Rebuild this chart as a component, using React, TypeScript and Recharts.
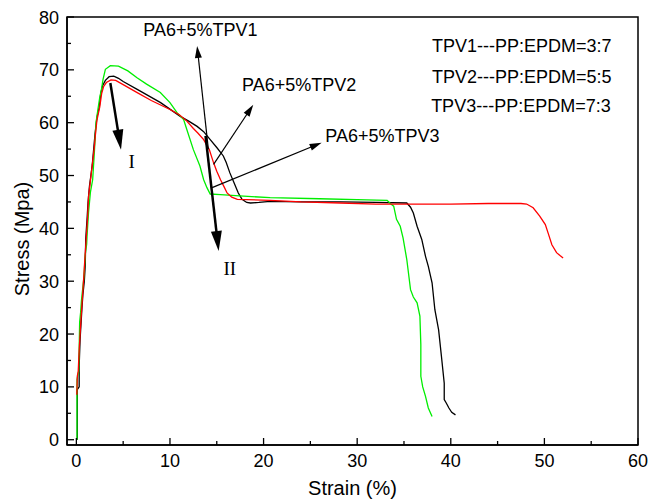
import React from 'react';
import { LineChart, Line, XAxis, YAxis, ReferenceLine, ReferenceDot, ReferenceArea } from 'recharts';

// ---- data ----
const tpv1X = [0.1, 0.1, 0.3, 0.3, 0.4, 0.5, 0.6, 0.7, 0.85, 0.95, 1.0, 1.15, 1.25, 1.4, 1.55, 1.7, 1.85, 2.0, 2.2, 2.45, 2.6, 2.8, 3.1, 3.5, 4.0, 4.5, 5.0, 6.5, 9.0, 11.1, 12.0, 12.9, 13.6, 14.3, 15.0, 15.7, 16.0, 16.4, 16.8, 17.3, 17.7, 18.2, 18.6, 19.5, 20.7, 24, 28.2, 32, 35.3, 35.7, 36.0, 36.4, 36.9, 37.3, 37.6, 38.0, 38.3, 38.7, 39.0, 39.3, 39.3, 39.5, 39.8, 40.1, 40.5];
const tpv1Y = [0, 9.5, 10, 14, 19, 22, 25, 27.5, 30, 33, 38, 42, 45, 48, 50, 52, 55, 58, 61, 63, 65.5, 67, 68, 68.7, 68.8, 68.4, 67.8, 66.3, 63.8, 61.2, 60.3, 59.3, 58.3, 56.8, 55.3, 53.7, 52.5, 50.5, 48.8, 46.7, 45.5, 44.9, 44.8, 44.9, 45.1, 45.0, 45.0, 44.9, 44.8, 44.0, 42.9, 40.4, 37.9, 34.7, 32.8, 29.7, 24.6, 20.8, 15.8, 10.7, 7.6, 7.0, 6.0, 5.2, 4.7];

const tpv2X = [0.05, 0.1, 0.2, 0.3, 0.4, 0.5, 0.65, 0.8, 0.9, 1.05, 1.2, 1.3, 1.5, 1.7, 1.9, 2.05, 2.2, 2.5, 2.7, 2.9, 3.2, 3.7, 4.2, 5.0, 6.5, 8.0, 10.0, 11.0, 11.8, 12.5, 13.0, 13.6, 14.2, 14.66, 15.0, 15.4, 15.8, 16.1, 16.6, 17.2, 20.7, 24, 28.2, 32, 36, 40, 44, 47.5, 48.1, 48.8, 49.5, 50.1, 50.4, 50.8, 51.3, 51.7, 52.0];
const tpv2Y = [8.5, 12, 13, 17, 20, 23, 27, 31, 34, 38, 42, 46, 49, 52, 55, 58, 60.5, 63, 65.5, 66.8, 67.6, 68.1, 68.0, 67.2, 65.7, 64.2, 62.5, 61.5, 60.3, 58.9, 58.0, 56.8, 54.9, 52.4, 50.8, 49.2, 47.8, 46.7, 45.9, 45.5, 45.3, 45.0, 44.8, 44.6, 44.6, 44.6, 44.7, 44.7, 44.6, 43.9, 42.3, 40.7, 39.1, 36.9, 35.4, 34.8, 34.4];

const tpv3X = [0.07, 0.07, 0.25, 0.3, 0.35, 0.45, 0.55, 0.7, 0.78, 0.85, 0.95, 1.1, 1.14, 1.3, 1.5, 1.74, 1.9, 2.1, 2.3, 2.49, 2.7, 2.85, 3.1, 3.63, 4.5, 5.5, 6.48, 7.5, 8.97, 10.0, 10.75, 11.46, 11.8, 12.5, 13.2, 13.6, 13.95, 14.3, 15.4, 17, 20.7, 26, 31, 33.2, 33.6, 33.9, 34.2, 34.6, 34.9, 35.3, 35.7, 36.0, 36.4, 36.7, 36.8, 36.8, 37.0, 37.3, 37.6, 38.0];
const tpv3Y = [0, 11.4, 13, 17, 22.2, 24, 26.5, 29, 30.3, 32, 35, 37, 38.5, 43, 46.8, 49.2, 53.7, 60, 62.5, 64.7, 66.5, 68.2, 70.1, 70.8, 70.7, 69.8, 68.5, 67.3, 65.7, 63.8, 61.9, 60.6, 58.7, 54.9, 51.8, 49.2, 47.7, 46.5, 46.4, 46.2, 45.8, 45.6, 45.4, 45.3, 44.6, 44.2, 41.7, 40.4, 38.2, 34.1, 28.4, 27.0, 25.9, 23.4, 18, 12.0, 10.0, 8.2, 6.0, 4.4];

const xTicks = [0, 5, 10, 15, 20, 25, 30, 35, 40, 45, 50, 55, 60];
const yTicks = [0, 5, 10, 15, 20, 25, 30, 35, 40, 45, 50, 55, 60, 65, 70, 75, 80];

const seriesNames = ['PA6+5%TPV1', 'PA6+5%TPV2', 'PA6+5%TPV3'];
const seriesColors = ['#000000', '#ff0000', '#00ee00'];
const noteLines = ['TPV1---PP:EPDM=3:7', 'TPV2---PP:EPDM=5:5', 'TPV3---PP:EPDM=7:3'];

const toPoints = (xs: number[], ys: number[]) => xs.map((x, i) => ({ x, y: ys[i] }));
const data1 = toPoints(tpv1X, tpv1Y);
const data2 = toPoints(tpv2X, tpv2Y);
const data3 = toPoints(tpv3X, tpv3Y);

const SANS = '"Liberation Sans", Arial, sans-serif';
const SERIF = '"Liberation Serif", "Times New Roman", serif';

const YTick = (props: any) => {
  const { x, y, payload } = props;
  const major = payload.value % 10 === 0;
  return (
    <g>
      <line x1={x} y1={y} x2={x + (major ? 7 : 4)} y2={y} stroke="#000" strokeWidth={1.3} />
      {major && (
        <text x={x - 8} y={y + 6.5} textAnchor="end" fontFamily={SANS} fontSize={18} fill="#000">
          {payload.value}
        </text>
      )}
    </g>
  );
};

const XTick = (props: any) => {
  const { x, y, payload } = props;
  const major = payload.value % 10 === 0;
  return (
    <g>
      <line x1={x} y1={y} x2={x} y2={y - (major ? 7 : 4)} stroke="#000" strokeWidth={1.3} />
      {major && (
        <text x={x} y={y + 22} textAnchor="middle" fontFamily={SANS} fontSize={18} fill="#000">
          {payload.value}
        </text>
      )}
    </g>
  );
};

const arrowShape = (headLen: number, headW: number, sw: number) => (p: any) => {
  const { x1, y1, x2, y2 } = p;
  const dx = x2 - x1;
  const dy = y2 - y1;
  const len = Math.sqrt(dx * dx + dy * dy) || 1;
  const ux = dx / len;
  const uy = dy / len;
  const bx = x2 - ux * headLen;
  const by = y2 - uy * headLen;
  const px = -uy * headW / 2;
  const py = ux * headW / 2;
  return (
    <g>
      <line x1={x1} y1={y1} x2={bx + ux * 2} y2={by + uy * 2} stroke="#000" strokeWidth={sw} />
      <polygon points={`${x2},${y2} ${bx + px},${by + py} ${bx - px},${by - py}`} fill="#000" />
    </g>
  );
};

const textShape = (txt: string, font: string, size: number, anchor: string) => (p: any) => (
  <text x={p.cx} y={p.cy} textAnchor={anchor} fontFamily={font} fontSize={size} fill="#000">
    {txt}
  </text>
);

export default function App() {
  return (
    <div style={{ position: 'absolute', left: 0, top: 0, background: '#fff' }}>
      <LineChart width={654} height={502} margin={{ top: 17, right: 16, left: 7, bottom: 7 }}>
        <XAxis
          dataKey="x"
          type="number"
          domain={[-1, 60]}
          ticks={xTicks}
          allowDataOverflow
          height={50}
          tickSize={0}
          tickMargin={0}
          tickLine={false}
          tick={<XTick />}
          axisLine={{ stroke: '#000', strokeWidth: 1.5 }}
          label={{
            content: (lp: any) => {
              const vb = lp.viewBox;
              return (
                <text x={vb.x + vb.width / 2} y={vb.y + 50} textAnchor="middle" fontFamily={SANS} fontSize={20} fill="#000">
                  Strain (%)
                </text>
              );
            },
          }}
        />
        <YAxis
          type="number"
          domain={[-1, 80]}
          ticks={yTicks}
          allowDataOverflow
          width={60}
          tickSize={0}
          tickMargin={0}
          tickLine={false}
          tick={<YTick />}
          axisLine={{ stroke: '#000', strokeWidth: 1.5 }}
          label={{
            content: (lp: any) => {
              const vb = lp.viewBox;
              const cx = vb.x + 15;
              const cy = vb.y + vb.height / 2 + 8;
              return (
                <text x={cx} y={cy} transform={`rotate(-90, ${cx}, ${cy})`} textAnchor="middle" dominantBaseline="central" fontFamily={SANS} fontSize={20} fill="#000">
                  Stress (Mpa)
                </text>
              );
            },
          }}
        />
        <ReferenceArea x1={-1} x2={60} y1={-1} y2={80} fill="none" stroke="#000" strokeWidth={1.5} ifOverflow="visible" />

        <Line data={data1} dataKey="y" name={seriesNames[0]} stroke={seriesColors[0]} strokeWidth={1.3} dot={false} isAnimationActive={false} />
        <Line data={data3} dataKey="y" name={seriesNames[2]} stroke={seriesColors[2]} strokeWidth={1.3} dot={false} isAnimationActive={false} />
        <Line data={data2} dataKey="y" name={seriesNames[1]} stroke={seriesColors[1]} strokeWidth={1.3} dot={false} isAnimationActive={false} />

        {/* arrows */}
        <ReferenceLine segment={[{ x: 3.63, y: 67.5 }, { x: 4.77, y: 54.9 }]} shape={arrowShape(20, 11, 2.5)} ifOverflow="visible" />
        <ReferenceLine segment={[{ x: 13.8, y: 57.5 }, { x: 15.2, y: 35.7 }]} shape={arrowShape(20, 11, 2.5)} ifOverflow="visible" />
        <ReferenceLine segment={[{ x: 14.1, y: 55.0 }, { x: 12.9, y: 74.5 }]} shape={arrowShape(12, 7, 1.2)} ifOverflow="visible" />
        <ReferenceLine segment={[{ x: 14.66, y: 52.1 }, { x: 18.9, y: 63.4 }]} shape={arrowShape(12, 7, 1.2)} ifOverflow="visible" />
        <ReferenceLine segment={[{ x: 14.5, y: 47.7 }, { x: 26.2, y: 56.2 }]} shape={arrowShape(12, 7, 1.2)} ifOverflow="visible" />

        {/* text annotations */}
        <ReferenceDot x={7.15} y={76.4} r={0} shape={textShape(seriesNames[0], SANS, 18, 'start')} ifOverflow="visible" />
        <ReferenceDot x={17.7} y={66.0} r={0} shape={textShape(seriesNames[1], SANS, 18, 'start')} ifOverflow="visible" />
        <ReferenceDot x={26.6} y={56.25} r={0} shape={textShape(seriesNames[2], SANS, 18, 'start')} ifOverflow="visible" />
        <ReferenceDot x={38.0} y={73.3} r={0} shape={textShape(noteLines[0], SANS, 18, 'start')} ifOverflow="visible" />
        <ReferenceDot x={38.0} y={67.6} r={0} shape={textShape(noteLines[1], SANS, 18, 'start')} ifOverflow="visible" />
        <ReferenceDot x={37.9} y={62.0} r={0} shape={textShape(noteLines[2], SANS, 18, 'start')} ifOverflow="visible" />
        <ReferenceDot x={5.9} y={51.5} r={0} shape={textShape('I', SERIF, 19, 'middle')} ifOverflow="visible" />
        <ReferenceDot x={16.4} y={31.25} r={0} shape={textShape('II', SERIF, 19, 'middle')} ifOverflow="visible" />
      </LineChart>
    </div>
  );
}
